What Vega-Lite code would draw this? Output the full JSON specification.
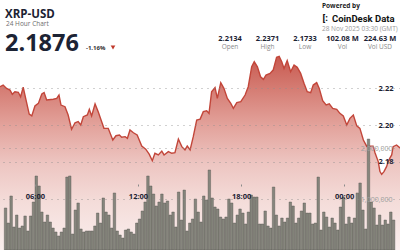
{
  "$schema": "https://vega.github.io/schema/vega-lite/v6.json",
  "width": 400,
  "height": 250,
  "padding": 0,
  "autosize": {"type": "none"},
  "background": "white",
  "config": {"view": {"stroke": null}, "font": "Open Sans", "text": {"font": "Open Sans"}, "axis": {"labelFont": "Open Sans"}},
  "datasets": {
    "price": [
      {"t": "2025-11-27T03:58:00Z", "p": 2.2207}, {"t": "2025-11-27T04:09:00Z", "p": 2.2216}, {"t": "2025-11-27T04:21:00Z", "p": 2.2198}, {"t": "2025-11-27T04:33:00Z", "p": 2.2189},
      {"t": "2025-11-27T04:41:00Z", "p": 2.2166}, {"t": "2025-11-27T04:50:00Z", "p": 2.2180}, {"t": "2025-11-27T05:02:00Z", "p": 2.2177}, {"t": "2025-11-27T05:10:00Z", "p": 2.2153},
      {"t": "2025-11-27T05:19:00Z", "p": 2.2204}, {"t": "2025-11-27T05:29:00Z", "p": 2.2135}, {"t": "2025-11-27T05:40:00Z", "p": 2.2059}, {"t": "2025-11-27T05:49:00Z", "p": 2.2049},
      {"t": "2025-11-27T06:00:00Z", "p": 2.2103}, {"t": "2025-11-27T06:12:00Z", "p": 2.2117}, {"t": "2025-11-27T06:24:00Z", "p": 2.2168}, {"t": "2025-11-27T06:32:00Z", "p": 2.2175},
      {"t": "2025-11-27T06:41:00Z", "p": 2.2135}, {"t": "2025-11-27T07:04:00Z", "p": 2.2139}, {"t": "2025-11-27T07:16:00Z", "p": 2.2144}, {"t": "2025-11-27T07:24:00Z", "p": 2.2162},
      {"t": "2025-11-27T07:31:00Z", "p": 2.2108}, {"t": "2025-11-27T07:45:00Z", "p": 2.2099}, {"t": "2025-11-27T07:56:00Z", "p": 2.2054}, {"t": "2025-11-27T08:08:00Z", "p": 2.1977},
      {"t": "2025-11-27T08:20:00Z", "p": 2.2012}, {"t": "2025-11-27T08:31:00Z", "p": 2.2018}, {"t": "2025-11-27T08:40:00Z", "p": 2.2000}, {"t": "2025-11-27T08:49:00Z", "p": 2.2045},
      {"t": "2025-11-27T09:03:00Z", "p": 2.2054}, {"t": "2025-11-27T09:10:00Z", "p": 2.2085}, {"t": "2025-11-27T09:18:00Z", "p": 2.2049}, {"t": "2025-11-27T09:30:00Z", "p": 2.2114},
      {"t": "2025-11-27T09:41:00Z", "p": 2.2072}, {"t": "2025-11-27T09:51:00Z", "p": 2.2027}, {"t": "2025-11-27T10:01:00Z", "p": 2.1982}, {"t": "2025-11-27T10:16:00Z", "p": 2.1982},
      {"t": "2025-11-27T10:32:00Z", "p": 2.1919}, {"t": "2025-11-27T10:43:00Z", "p": 2.1942}, {"t": "2025-11-27T10:55:00Z", "p": 2.1946}, {"t": "2025-11-27T11:03:00Z", "p": 2.1934},
      {"t": "2025-11-27T11:15:00Z", "p": 2.1937}, {"t": "2025-11-27T11:23:00Z", "p": 2.1928}, {"t": "2025-11-27T11:32:00Z", "p": 2.1973}, {"t": "2025-11-27T11:44:00Z", "p": 2.1958},
      {"t": "2025-11-27T11:57:00Z", "p": 2.1946}, {"t": "2025-11-27T12:13:00Z", "p": 2.1886}, {"t": "2025-11-27T12:27:00Z", "p": 2.1869}, {"t": "2025-11-27T12:39:00Z", "p": 2.1842},
      {"t": "2025-11-27T12:50:00Z", "p": 2.1807}, {"t": "2025-11-27T12:59:00Z", "p": 2.1847}, {"t": "2025-11-27T13:11:00Z", "p": 2.1838}, {"t": "2025-11-27T13:23:00Z", "p": 2.1859},
      {"t": "2025-11-27T13:31:00Z", "p": 2.1838}, {"t": "2025-11-27T13:46:00Z", "p": 2.1856}, {"t": "2025-11-27T13:58:00Z", "p": 2.1847}, {"t": "2025-11-27T14:09:00Z", "p": 2.1850},
      {"t": "2025-11-27T14:21:00Z", "p": 2.1924}, {"t": "2025-11-27T14:33:00Z", "p": 2.1883}, {"t": "2025-11-27T14:44:00Z", "p": 2.1865}, {"t": "2025-11-27T14:52:00Z", "p": 2.1886},
      {"t": "2025-11-27T15:02:00Z", "p": 2.1865}, {"t": "2025-11-27T15:13:00Z", "p": 2.1937}, {"t": "2025-11-27T15:25:00Z", "p": 2.2027}, {"t": "2025-11-27T15:37:00Z", "p": 2.2032},
      {"t": "2025-11-27T15:48:00Z", "p": 2.2072}, {"t": "2025-11-27T16:00:00Z", "p": 2.2077}, {"t": "2025-11-27T16:08:00Z", "p": 2.2063}, {"t": "2025-11-27T16:17:00Z", "p": 2.2180},
      {"t": "2025-11-27T16:29:00Z", "p": 2.2202}, {"t": "2025-11-27T16:37:00Z", "p": 2.2144}, {"t": "2025-11-27T16:49:00Z", "p": 2.2229}, {"t": "2025-11-27T17:00:00Z", "p": 2.2198},
      {"t": "2025-11-27T17:12:00Z", "p": 2.2144}, {"t": "2025-11-27T17:24:00Z", "p": 2.2117}, {"t": "2025-11-27T17:33:00Z", "p": 2.2090}, {"t": "2025-11-27T17:45:00Z", "p": 2.2121},
      {"t": "2025-11-27T17:59:00Z", "p": 2.2126}, {"t": "2025-11-27T18:14:00Z", "p": 2.2162}, {"t": "2025-11-27T18:25:00Z", "p": 2.2207}, {"t": "2025-11-27T18:37:00Z", "p": 2.2315},
      {"t": "2025-11-27T18:46:00Z", "p": 2.2342}, {"t": "2025-11-27T18:57:00Z", "p": 2.2315}, {"t": "2025-11-27T19:08:00Z", "p": 2.2261}, {"t": "2025-11-27T19:18:00Z", "p": 2.2247},
      {"t": "2025-11-27T19:27:00Z", "p": 2.2270}, {"t": "2025-11-27T19:41:00Z", "p": 2.2279}, {"t": "2025-11-27T19:52:00Z", "p": 2.2297}, {"t": "2025-11-27T20:04:00Z", "p": 2.2366},
      {"t": "2025-11-27T20:13:00Z", "p": 2.2371}, {"t": "2025-11-27T20:22:00Z", "p": 2.2342}, {"t": "2025-11-27T20:30:00Z", "p": 2.2306}, {"t": "2025-11-27T20:41:00Z", "p": 2.2348},
      {"t": "2025-11-27T20:53:00Z", "p": 2.2288}, {"t": "2025-11-27T21:05:00Z", "p": 2.2324}, {"t": "2025-11-27T21:16:00Z", "p": 2.2312}, {"t": "2025-11-27T21:28:00Z", "p": 2.2279},
      {"t": "2025-11-27T21:40:00Z", "p": 2.2225}, {"t": "2025-11-27T21:51:00Z", "p": 2.2180}, {"t": "2025-11-27T22:03:00Z", "p": 2.2175}, {"t": "2025-11-27T22:12:00Z", "p": 2.2216},
      {"t": "2025-11-27T22:24:00Z", "p": 2.2229}, {"t": "2025-11-27T22:33:00Z", "p": 2.2198}, {"t": "2025-11-27T22:45:00Z", "p": 2.2131}, {"t": "2025-11-27T22:57:00Z", "p": 2.2108},
      {"t": "2025-11-27T23:08:00Z", "p": 2.2114}, {"t": "2025-11-27T23:20:00Z", "p": 2.2090}, {"t": "2025-11-27T23:34:00Z", "p": 2.2085}, {"t": "2025-11-27T23:45:00Z", "p": 2.2063},
      {"t": "2025-11-27T23:57:00Z", "p": 2.2049}, {"t": "2025-11-28T00:09:00Z", "p": 2.2000}, {"t": "2025-11-28T00:20:00Z", "p": 2.2036}, {"t": "2025-11-28T00:32:00Z", "p": 2.2054},
      {"t": "2025-11-28T00:44:00Z", "p": 2.1995}, {"t": "2025-11-28T00:55:00Z", "p": 2.1982}, {"t": "2025-11-28T01:07:00Z", "p": 2.1919}, {"t": "2025-11-28T01:19:00Z", "p": 2.1884},
      {"t": "2025-11-28T01:30:00Z", "p": 2.1886}, {"t": "2025-11-28T01:41:00Z", "p": 2.1886}, {"t": "2025-11-28T01:48:00Z", "p": 2.1849}, {"t": "2025-11-28T01:59:00Z", "p": 2.1802},
      {"t": "2025-11-28T02:05:00Z", "p": 2.1748}, {"t": "2025-11-28T02:11:00Z", "p": 2.1733}, {"t": "2025-11-28T02:19:00Z", "p": 2.1748}, {"t": "2025-11-28T02:28:00Z", "p": 2.1775},
      {"t": "2025-11-28T02:34:00Z", "p": 2.1802}, {"t": "2025-11-28T02:40:00Z", "p": 2.1822}, {"t": "2025-11-28T02:46:00Z", "p": 2.1838}, {"t": "2025-11-28T02:51:00Z", "p": 2.1883},
      {"t": "2025-11-28T03:03:00Z", "p": 2.1892}, {"t": "2025-11-28T03:15:00Z", "p": 2.1876}
    ],
    "volume": [
      {"t": "2025-11-27T04:00:00Z", "v": 824000}, {"t": "2025-11-27T04:10:00Z", "v": 529000}, {"t": "2025-11-27T04:20:00Z", "v": 1059000}, {"t": "2025-11-27T04:30:00Z", "v": 451000},
      {"t": "2025-11-27T04:40:00Z", "v": 686000}, {"t": "2025-11-27T04:50:00Z", "v": 431000}, {"t": "2025-11-27T05:00:00Z", "v": 471000}, {"t": "2025-11-27T05:10:00Z", "v": 667000},
      {"t": "2025-11-27T05:20:00Z", "v": 373000}, {"t": "2025-11-27T05:30:00Z", "v": 667000}, {"t": "2025-11-27T05:40:00Z", "v": 941000}, {"t": "2025-11-27T05:50:00Z", "v": 1451000},
      {"t": "2025-11-27T06:00:00Z", "v": 1255000}, {"t": "2025-11-27T06:10:00Z", "v": 745000}, {"t": "2025-11-27T06:20:00Z", "v": 549000}, {"t": "2025-11-27T06:30:00Z", "v": 686000},
      {"t": "2025-11-27T06:40:00Z", "v": 549000}, {"t": "2025-11-27T06:50:00Z", "v": 431000}, {"t": "2025-11-27T07:00:00Z", "v": 353000}, {"t": "2025-11-27T07:10:00Z", "v": 275000},
      {"t": "2025-11-27T07:20:00Z", "v": 353000}, {"t": "2025-11-27T07:30:00Z", "v": 431000}, {"t": "2025-11-27T07:40:00Z", "v": 1431000}, {"t": "2025-11-27T07:50:00Z", "v": 1451000},
      {"t": "2025-11-27T08:00:00Z", "v": 314000}, {"t": "2025-11-27T08:10:00Z", "v": 784000}, {"t": "2025-11-27T08:20:00Z", "v": 922000}, {"t": "2025-11-27T08:30:00Z", "v": 412000},
      {"t": "2025-11-27T08:40:00Z", "v": 353000}, {"t": "2025-11-27T08:50:00Z", "v": 373000}, {"t": "2025-11-27T09:00:00Z", "v": 373000}, {"t": "2025-11-27T09:10:00Z", "v": 373000},
      {"t": "2025-11-27T09:20:00Z", "v": 471000}, {"t": "2025-11-27T09:30:00Z", "v": 725000}, {"t": "2025-11-27T09:40:00Z", "v": 529000},
      {"t": "2025-11-27T09:50:00Z", "v": 1020000}, {"t": "2025-11-27T10:00:00Z", "v": 745000}, {"t": "2025-11-27T10:10:00Z", "v": 686000}, {"t": "2025-11-27T10:20:00Z", "v": 431000},
      {"t": "2025-11-27T10:30:00Z", "v": 1118000}, {"t": "2025-11-27T10:40:00Z", "v": 373000}, {"t": "2025-11-27T10:50:00Z", "v": 294000}, {"t": "2025-11-27T11:00:00Z", "v": 235000},
      {"t": "2025-11-27T11:10:00Z", "v": 392000}, {"t": "2025-11-27T11:20:00Z", "v": 412000}, {"t": "2025-11-27T11:30:00Z", "v": 353000}, {"t": "2025-11-27T11:40:00Z", "v": 314000},
      {"t": "2025-11-27T11:50:00Z", "v": 529000}, {"t": "2025-11-27T12:00:00Z", "v": 608000}, {"t": "2025-11-27T12:10:00Z", "v": 765000}, {"t": "2025-11-27T12:20:00Z", "v": 941000},
      {"t": "2025-11-27T12:30:00Z", "v": 1451000}, {"t": "2025-11-27T12:40:00Z", "v": 1255000}, {"t": "2025-11-27T12:50:00Z", "v": 1098000}, {"t": "2025-11-27T13:00:00Z", "v": 863000},
      {"t": "2025-11-27T13:10:00Z", "v": 941000}, {"t": "2025-11-27T13:20:00Z", "v": 1098000}, {"t": "2025-11-27T13:30:00Z", "v": 922000}, {"t": "2025-11-27T13:40:00Z", "v": 961000},
      {"t": "2025-11-27T13:50:00Z", "v": 686000}, {"t": "2025-11-27T14:00:00Z", "v": 745000}, {"t": "2025-11-27T14:10:00Z", "v": 451000}, {"t": "2025-11-27T14:20:00Z", "v": 1137000},
      {"t": "2025-11-27T14:30:00Z", "v": 588000}, {"t": "2025-11-27T14:40:00Z", "v": 1176000}, {"t": "2025-11-27T14:50:00Z", "v": 373000}, {"t": "2025-11-27T15:00:00Z", "v": 529000},
      {"t": "2025-11-27T15:10:00Z", "v": 608000}, {"t": "2025-11-27T15:20:00Z", "v": 1000000}, {"t": "2025-11-27T15:30:00Z", "v": 745000},
      {"t": "2025-11-27T15:40:00Z", "v": 549000}, {"t": "2025-11-27T15:50:00Z", "v": 1059000}, {"t": "2025-11-27T16:00:00Z", "v": 980000}, {"t": "2025-11-27T16:10:00Z", "v": 1569000},
      {"t": "2025-11-27T16:20:00Z", "v": 1020000}, {"t": "2025-11-27T16:30:00Z", "v": 843000}, {"t": "2025-11-27T16:40:00Z", "v": 804000}, {"t": "2025-11-27T16:50:00Z", "v": 647000},
      {"t": "2025-11-27T17:00:00Z", "v": 608000}, {"t": "2025-11-27T17:10:00Z", "v": 647000}, {"t": "2025-11-27T17:20:00Z", "v": 1000000}, {"t": "2025-11-27T17:30:00Z", "v": 922000},
      {"t": "2025-11-27T17:40:00Z", "v": 529000}, {"t": "2025-11-27T17:50:00Z", "v": 686000}, {"t": "2025-11-27T18:00:00Z", "v": 804000}, {"t": "2025-11-27T18:10:00Z", "v": 725000},
      {"t": "2025-11-27T18:20:00Z", "v": 510000}, {"t": "2025-11-27T18:30:00Z", "v": 745000}, {"t": "2025-11-27T18:40:00Z", "v": 1078000}, {"t": "2025-11-27T18:50:00Z", "v": 1039000},
      {"t": "2025-11-27T19:00:00Z", "v": 1039000}, {"t": "2025-11-27T19:10:00Z", "v": 510000}, {"t": "2025-11-27T19:20:00Z", "v": 510000}, {"t": "2025-11-27T19:30:00Z", "v": 765000},
      {"t": "2025-11-27T19:40:00Z", "v": 471000}, {"t": "2025-11-27T19:50:00Z", "v": 431000}, {"t": "2025-11-27T20:00:00Z", "v": 1235000}, {"t": "2025-11-27T20:10:00Z", "v": 686000},
      {"t": "2025-11-27T20:20:00Z", "v": 471000}, {"t": "2025-11-27T20:30:00Z", "v": 627000}, {"t": "2025-11-27T20:40:00Z", "v": 549000}, {"t": "2025-11-27T20:50:00Z", "v": 627000},
      {"t": "2025-11-27T21:00:00Z", "v": 941000}, {"t": "2025-11-27T21:10:00Z", "v": 863000}, {"t": "2025-11-27T21:20:00Z", "v": 529000},
      {"t": "2025-11-27T21:30:00Z", "v": 627000}, {"t": "2025-11-27T21:40:00Z", "v": 765000}, {"t": "2025-11-27T21:50:00Z", "v": 922000}, {"t": "2025-11-27T22:00:00Z", "v": 725000},
      {"t": "2025-11-27T22:10:00Z", "v": 725000}, {"t": "2025-11-27T22:20:00Z", "v": 510000}, {"t": "2025-11-27T22:30:00Z", "v": 529000}, {"t": "2025-11-27T22:40:00Z", "v": 1431000},
      {"t": "2025-11-27T22:50:00Z", "v": 392000}, {"t": "2025-11-27T23:00:00Z", "v": 745000}, {"t": "2025-11-27T23:10:00Z", "v": 647000}, {"t": "2025-11-27T23:20:00Z", "v": 451000},
      {"t": "2025-11-27T23:30:00Z", "v": 627000}, {"t": "2025-11-27T23:40:00Z", "v": 529000}, {"t": "2025-11-27T23:50:00Z", "v": 392000}, {"t": "2025-11-28T00:00:00Z", "v": 843000},
      {"t": "2025-11-28T00:10:00Z", "v": 1039000}, {"t": "2025-11-28T00:20:00Z", "v": 510000}, {"t": "2025-11-28T00:30:00Z", "v": 647000}, {"t": "2025-11-28T00:40:00Z", "v": 529000},
      {"t": "2025-11-28T00:50:00Z", "v": 627000}, {"t": "2025-11-28T01:00:00Z", "v": 1118000}, {"t": "2025-11-28T01:10:00Z", "v": 1314000}, {"t": "2025-11-28T01:20:00Z", "v": 784000},
      {"t": "2025-11-28T01:30:00Z", "v": 412000}, {"t": "2025-11-28T01:40:00Z", "v": 2176000}, {"t": "2025-11-28T01:50:00Z", "v": 941000}, {"t": "2025-11-28T02:00:00Z", "v": 824000},
      {"t": "2025-11-28T02:10:00Z", "v": 490000}, {"t": "2025-11-28T02:20:00Z", "v": 686000}, {"t": "2025-11-28T02:30:00Z", "v": 490000}, {"t": "2025-11-28T02:40:00Z", "v": 588000},
      {"t": "2025-11-28T02:50:00Z", "v": 510000}, {"t": "2025-11-28T03:00:00Z", "v": 745000}, {"t": "2025-11-28T03:10:00Z", "v": 588000}
    ],
    "stats": [
      {"stat": "Open", "figure": "2.2134"},
      {"stat": "High", "figure": "2.2371"},
      {"stat": "Low", "figure": "2.1733"},
      {"stat": "Vol", "figure": "102.08 M"},
      {"stat": "Vol USD", "figure": "224.63 M"}
    ]
  },
  "layer": [
    {
      "data": {"name": "price"},
      "encoding": {
        "x": {"field": "t", "type": "temporal",
          "scale": {"type": "utc", "domain": [{"year": 2025, "month": 11, "date": 27, "hours": 3, "minutes": 58, "utc": true}, {"year": 2025, "month": 11, "date": 28, "hours": 3, "minutes": 15, "utc": true}]},
          "axis": {"orient": "bottom", "offset": -66, "values": [{"year": 2025, "month": 11, "date": 27, "hours": 6, "utc": true}, {"year": 2025, "month": 11, "date": 27, "hours": 12, "utc": true}, {"year": 2025, "month": 11, "date": 27, "hours": 18, "utc": true}, {"year": 2025, "month": 11, "date": 28, "hours": 0, "utc": true}],
            "format": "%H:%M", "title": null, "domain": false, "grid": false, "ticks": true, "tickSize": 2, "tickColor": "#8a8a8a", "labelPadding": 6,
            "labelFontSize": 7.5, "labelFontWeight": "bold", "labelColor": "#1c2334", "labelOverlap": false, "labelFlush": false, "zindex": 1}},
        "y": {"field": "p", "type": "quantitative",
          "scale": {"domain": [2.1324, 2.2676], "zero": false, "nice": false, "clamp": true},
          "axis": {"orient": "right", "offset": -7, "values": [2.18, 2.2, 2.22], "format": ".2f", "title": null, "domain": false, "ticks": false, "labelPadding": 0, "labelAlign": "right",
            "labelFontSize": 7.5, "labelFontWeight": "bold", "labelColor": "#1c2334", "grid": true, "gridDash": [1, 5], "gridColor": "#8c8c8c", "gridOpacity": 0.8, "labelOverlap": false, "labelFlush": false, "zindex": 1}}
      },
      "layer": [
        {"mark": {"type": "area", "interpolate": "linear",
          "fill": {"gradient": "linear", "x1": 0, "y1": 0, "x2": 0, "y2": 1,
            "stops": [{"offset": 0, "color": "#c8594f"}, {"offset": 0.17, "color": "#d57d74"}, {"offset": 0.36, "color": "#e3a39c"}, {"offset": 0.55, "color": "#edc5c1"}, {"offset": 0.75, "color": "#f4dcd9"}, {"offset": 1, "color": "#faefee"}]}}},
        {"mark": {"type": "line", "interpolate": "linear", "stroke": "#c2463a", "strokeWidth": 1.4}}
      ]
    },
    {
      "data": {"name": "volume"},
      "mark": {"type": "bar", "size": 2.5, "fill": "#86867d", "stroke": "#4f4f49", "strokeWidth": 0.4},
      "encoding": {
        "x": {"field": "t", "type": "temporal",
          "scale": {"type": "utc", "domain": [{"year": 2025, "month": 11, "date": 27, "hours": 3, "minutes": 58, "utc": true}, {"year": 2025, "month": 11, "date": 28, "hours": 3, "minutes": 15, "utc": true}]},
          "axis": null},
        "y": {"field": "v", "type": "quantitative",
          "scale": {"domain": [0, 4902000], "nice": false},
          "axis": {"orient": "right", "offset": -8, "values": [1000000, 2000000], "format": ",d", "title": null, "domain": false, "ticks": false, "labelPadding": 0, "labelAlign": "right",
            "labelFontSize": 7, "labelColor": "#a0a0a0", "grid": true, "gridDash": [1, 5], "gridColor": "#8c8c8c", "gridOpacity": 0.8, "labelOverlap": false, "labelFlush": false, "zindex": 1}}
      }
    },
    {
      "data": {"name": "stats"},
      "encoding": {
        "x": {"field": "stat", "type": "nominal", "sort": null, "scale": {"type": "point", "range": [230, 380], "padding": 0}, "axis": null}
      },
      "layer": [
        {"mark": {"type": "text", "align": "center", "baseline": "alphabetic", "fontSize": 7.5, "fontWeight": "bold", "color": "#1c2334"},
          "encoding": {"y": {"datum": "figure", "type": "nominal", "scale": {"type": "point", "domain": ["figure", "stat"], "range": [40.5, 48.5], "padding": 0}, "axis": null}, "text": {"field": "figure"}}},
        {"mark": {"type": "text", "align": "center", "baseline": "alphabetic", "fontSize": 6.5, "color": "#8a8a8a"},
          "encoding": {"y": {"datum": "stat", "type": "nominal", "scale": {"type": "point", "domain": ["figure", "stat"], "range": [40.5, 48.5], "padding": 0}, "axis": null}, "text": {"field": "stat"}}}
      ]
    },
    {
      "data": {"values": [{"s": "XRP-USD"}]},
      "mark": {"type": "text", "align": "left", "baseline": "alphabetic", "fontSize": 11.5, "fontWeight": "bold", "color": "#1c2334"},
      "encoding": {"x": {"field": "s", "type": "nominal", "scale": {"type": "point", "range": [5, 5]}, "axis": null}, "y": {"field": "s", "type": "nominal", "scale": {"type": "point", "range": [17.5, 17.5]}, "axis": null}, "text": {"field": "s"}}
    },
    {
      "data": {"values": [{"s": "24 Hour Chart"}]},
      "mark": {"type": "text", "align": "left", "baseline": "alphabetic", "fontSize": 6.5, "color": "#6e6e6e"},
      "encoding": {"x": {"field": "s", "type": "nominal", "scale": {"type": "point", "range": [6, 6]}, "axis": null}, "y": {"field": "s", "type": "nominal", "scale": {"type": "point", "range": [26, 26]}, "axis": null}, "text": {"field": "s"}}
    },
    {
      "data": {"values": [{"s": "2.1876"}]},
      "mark": {"type": "text", "align": "left", "baseline": "alphabetic", "fontSize": 23.5, "fontWeight": "bold", "color": "#1c2334"},
      "encoding": {"x": {"field": "s", "type": "nominal", "scale": {"type": "point", "range": [5, 5]}, "axis": null}, "y": {"field": "s", "type": "nominal", "scale": {"type": "point", "range": [50.5, 50.5]}, "axis": null}, "text": {"field": "s"}}
    },
    {
      "data": {"values": [{"s": "-1.16%"}]},
      "mark": {"type": "text", "align": "left", "baseline": "alphabetic", "fontSize": 6, "fontWeight": "bold", "color": "#333333"},
      "encoding": {"x": {"field": "s", "type": "nominal", "scale": {"type": "point", "range": [86, 86]}, "axis": null}, "y": {"field": "s", "type": "nominal", "scale": {"type": "point", "range": [49.5, 49.5]}, "axis": null}, "text": {"field": "s"}}
    },
    {
      "data": {"values": [{"s": "down"}]},
      "mark": {"type": "point", "shape": "triangle-down", "size": 22, "filled": true, "fill": "#c0392b", "opacity": 1},
      "encoding": {"x": {"field": "s", "type": "nominal", "scale": {"type": "point", "range": [113, 113]}, "axis": null}, "y": {"field": "s", "type": "nominal", "scale": {"type": "point", "range": [47.5, 47.5]}, "axis": null}}
    },
    {
      "data": {"values": [{"s": "Powered by"}]},
      "mark": {"type": "text", "align": "left", "baseline": "alphabetic", "fontSize": 6.5, "fontWeight": "bold", "color": "#222222"},
      "encoding": {"x": {"field": "s", "type": "nominal", "scale": {"type": "point", "range": [322, 322]}, "axis": null}, "y": {"field": "s", "type": "nominal", "scale": {"type": "point", "range": [7.5, 7.5]}, "axis": null}, "text": {"field": "s"}}
    },
    {
      "data": {"values": [{"s": "CoinDesk Data"}]},
      "mark": {"type": "text", "align": "left", "baseline": "alphabetic", "fontSize": 9.5, "fontWeight": "bold", "font": "Roboto", "color": "#111111"},
      "encoding": {"x": {"field": "s", "type": "nominal", "scale": {"type": "point", "range": [332, 332]}, "axis": null}, "y": {"field": "s", "type": "nominal", "scale": {"type": "point", "range": [21.5, 21.5]}, "axis": null}, "text": {"field": "s"}}
    },
    {
      "data": {"values": [{"s": "[:"}]},
      "mark": {"type": "text", "align": "left", "baseline": "alphabetic", "fontSize": 9.5, "fontWeight": "bold", "font": "Roboto", "color": "#111111"},
      "encoding": {"x": {"field": "s", "type": "nominal", "scale": {"type": "point", "range": [322.5, 322.5]}, "axis": null}, "y": {"field": "s", "type": "nominal", "scale": {"type": "point", "range": [21, 21]}, "axis": null}, "text": {"field": "s"}}
    },
    {
      "data": {"values": [{"s": "28 Nov 2025 03:30 (GMT)"}]},
      "mark": {"type": "text", "align": "left", "baseline": "alphabetic", "fontSize": 6.5, "color": "#9a9a9a"},
      "encoding": {"x": {"field": "s", "type": "nominal", "scale": {"type": "point", "range": [322, 322]}, "axis": null}, "y": {"field": "s", "type": "nominal", "scale": {"type": "point", "range": [30.5, 30.5]}, "axis": null}, "text": {"field": "s"}}
    }
  ],
  "resolve": {"scale": {"x": "independent", "y": "independent"}, "axis": {"x": "independent", "y": "independent"}}
}
